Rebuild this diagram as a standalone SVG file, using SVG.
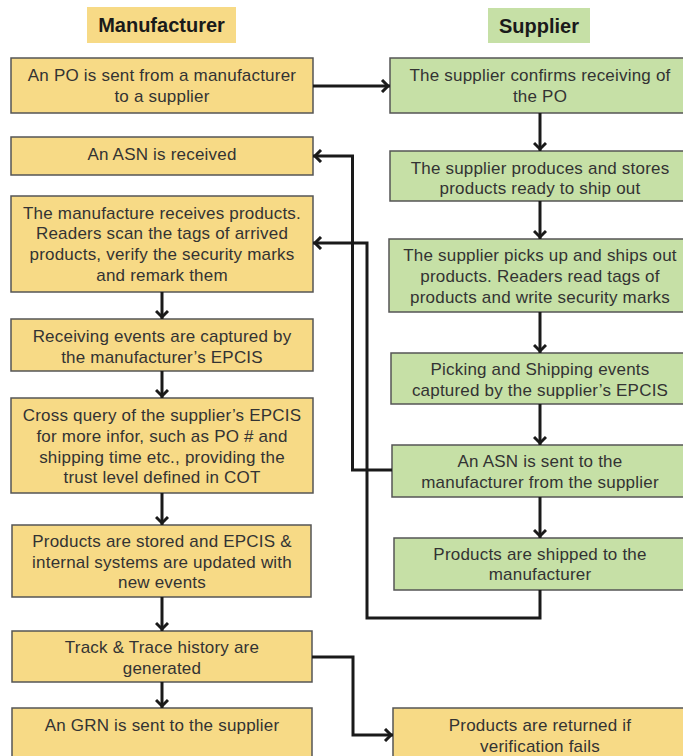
<svg xmlns="http://www.w3.org/2000/svg" width="683" height="756" viewBox="0 0 683 756">
<style>
  .y{fill:#f7da86;stroke:#555;stroke-width:1.5}
  .g{fill:#c6e0a6;stroke:#555;stroke-width:1.5}
  .hy{fill:#f7da86}
  .hg{fill:#c6e0a6}
  .h{font-family:"Liberation Sans",Arial,sans-serif;font-size:20px;font-weight:bold;fill:#1a1a1a;text-anchor:middle}
  .t{font-family:"Liberation Sans",Arial,sans-serif;font-size:17px;letter-spacing:0.2px;fill:#333;text-anchor:middle}
  .c{fill:none;stroke:#1a1a1a;stroke-width:3}
</style>
<defs>
  <marker id="ah" markerUnits="userSpaceOnUse" viewBox="0 0 16 14" markerWidth="16" markerHeight="14" refX="13" refY="7" orient="auto">
    <path d="M5,1 L11,7 L5,13" fill="none" stroke="#1a1a1a" stroke-width="3"/>
  </marker>
</defs>
<rect width="683" height="756" fill="#fff"/>

<g id="hdr-manufacturer">
  <rect class="hy" x="87" y="7" width="149" height="36"/>
  <text class="h" x="161.5" y="32">Manufacturer</text>
</g>
<g id="hdr-supplier">
  <rect class="hg" x="488" y="8" width="102" height="35"/>
  <text class="h" x="539" y="33">Supplier</text>
</g>

<g id="m1">
  <rect class="y" x="11" y="58" width="302" height="55"/>
  <text class="t" x="162" y="81">An PO is sent from a manufacturer</text>
  <text class="t" x="162" y="101.5">to a supplier</text>
</g>
<g id="m2">
  <rect class="y" x="11" y="137" width="302" height="38"/>
  <text class="t" x="162" y="160">An ASN is received</text>
</g>
<g id="m3">
  <rect class="y" x="11" y="196" width="302" height="96"/>
  <text class="t" x="162" y="218.5">The manufacture receives products.</text>
  <text class="t" x="162" y="239">Readers scan the tags of arrived</text>
  <text class="t" x="162" y="260">products, verify the security marks</text>
  <text class="t" x="162" y="280.5">and remark them</text>
</g>
<g id="m4">
  <rect class="y" x="11" y="319" width="302" height="52"/>
  <text class="t" x="162" y="341.5">Receiving events are captured by</text>
  <text class="t" x="162" y="362.5">the manufacturer’s EPCIS</text>
</g>
<g id="m5">
  <rect class="y" x="11" y="398" width="302" height="95"/>
  <text class="t" x="162" y="420.5">Cross query of the supplier’s EPCIS</text>
  <text class="t" x="162" y="441.5">for more infor, such as PO # and</text>
  <text class="t" x="162" y="462.5">shipping time etc., providing the</text>
  <text class="t" x="162" y="483">trust level defined in COT</text>
</g>
<g id="m6">
  <rect class="y" x="12" y="525" width="299" height="72"/>
  <text class="t" x="162" y="546.5">Products are stored and EPCIS &amp;</text>
  <text class="t" x="162" y="567.5">internal systems are updated with</text>
  <text class="t" x="162" y="588">new events</text>
</g>
<g id="m7">
  <rect class="y" x="12" y="631" width="300" height="51"/>
  <text class="t" x="162" y="653">Track &amp; Trace history are</text>
  <text class="t" x="162" y="673.5">generated</text>
</g>
<g id="m8">
  <rect class="y" x="12" y="708" width="300" height="60"/>
  <text class="t" x="162" y="731">An GRN is sent to the supplier</text>
</g>

<g id="s1">
  <rect class="g" x="390" y="58" width="300" height="55"/>
  <text class="t" x="540" y="81">The supplier confirms receiving of</text>
  <text class="t" x="540" y="101.5">the PO</text>
</g>
<g id="s2">
  <rect class="g" x="390" y="151" width="300" height="50"/>
  <text class="t" x="540" y="173.5">The supplier produces and stores</text>
  <text class="t" x="540" y="194">products ready to ship out</text>
</g>
<g id="s3">
  <rect class="g" x="389" y="239" width="300" height="73"/>
  <text class="t" x="540" y="261">The supplier picks up and ships out</text>
  <text class="t" x="540" y="282">products. Readers read tags of</text>
  <text class="t" x="540" y="302.5">products and write security marks</text>
</g>
<g id="s4">
  <rect class="g" x="391" y="353" width="300" height="51"/>
  <text class="t" x="540" y="375">Picking and Shipping events</text>
  <text class="t" x="540" y="395.5">captured by the supplier’s EPCIS</text>
</g>
<g id="s5">
  <rect class="g" x="392" y="445" width="300" height="52"/>
  <text class="t" x="540" y="467">An ASN is sent to the</text>
  <text class="t" x="540" y="487.5">manufacturer from the supplier</text>
</g>
<g id="s6">
  <rect class="g" x="394" y="538" width="300" height="52"/>
  <text class="t" x="540" y="559.5">Products are shipped to the</text>
  <text class="t" x="540" y="580">manufacturer</text>
</g>
<g id="r1">
  <rect class="y" x="393" y="708" width="300" height="60"/>
  <text class="t" x="540" y="731">Products are returned if</text>
  <text class="t" x="540" y="752">verification fails</text>
</g>

<g id="connectors">
  <path class="c" d="M313,86 H390" marker-end="url(#ah)"/>
  <path class="c" d="M540,113 V151" marker-end="url(#ah)"/>
  <path class="c" d="M540,201 V239" marker-end="url(#ah)"/>
  <path class="c" d="M540,312 V353" marker-end="url(#ah)"/>
  <path class="c" d="M540,404 V445" marker-end="url(#ah)"/>
  <path class="c" d="M540,497 V538" marker-end="url(#ah)"/>
  <path class="c" d="M392,470 H352.5 V156 H313" marker-end="url(#ah)"/>
  <path class="c" d="M540,590 V618 H367 V243 H313" marker-end="url(#ah)"/>
  <path class="c" d="M162,292 V319" marker-end="url(#ah)"/>
  <path class="c" d="M162,371 V398" marker-end="url(#ah)"/>
  <path class="c" d="M162,493 V525" marker-end="url(#ah)"/>
  <path class="c" d="M162,597 V631" marker-end="url(#ah)"/>
  <path class="c" d="M162,682 V708" marker-end="url(#ah)"/>
  <path class="c" d="M312,657 H353 V735 H393" marker-end="url(#ah)"/>
</g>
</svg>
